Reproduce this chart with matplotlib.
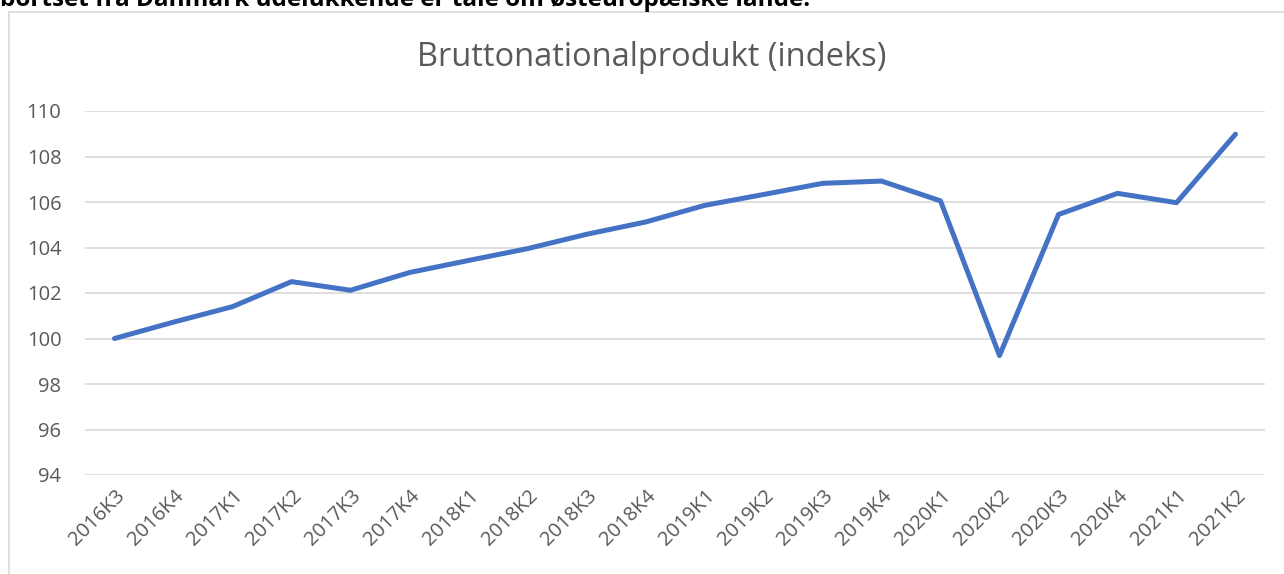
import matplotlib
matplotlib.use('Agg')
import matplotlib.pyplot as plt
from matplotlib.patches import Rectangle

# kvartaler og BNP-indeks (2016K3 = 100)
kvartaler = ['2016K3', '2016K4', '2017K1', '2017K2', '2017K3', '2017K4',
             '2018K1', '2018K2', '2018K3', '2018K4', '2019K1', '2019K2',
             '2019K3', '2019K4', '2020K1', '2020K2', '2020K3', '2020K4',
             '2021K1', '2021K2']
indeks = [100.0, 100.72, 101.4, 102.5, 102.12, 102.9,
          103.43, 103.95, 104.58, 105.12, 105.85, 106.33,
          106.82, 106.92, 106.05, 99.25, 105.45, 106.38,
          105.97, 108.98]
y_ticks = [94, 96, 98, 100, 102, 104, 106, 108, 110]

plt.rcParams['font.family'] = ['Open Sans', 'DejaVu Sans']
grey = '#595959'

fig = plt.figure(figsize=(12.84, 5.74), dpi=100)

# tekst fra dokumentet over figuren (skåret af)
fig.text(0.0, 1 - 6 / 574, 'bortset fra Danmark udelukkende er tale om østeuropæiske lande.',
         fontsize=17.5, fontweight='bold', color='black', va='baseline', ha='left')

# diagramramme
fig.patches.append(Rectangle((9 / 1284, -0.1), 1.2, 1 - 12 / 574 + 0.1,
                             transform=fig.transFigure, fill=False,
                             edgecolor='#d9d9d9', linewidth=1.2))

ax = fig.add_axes([85 / 1284, 1 - 475 / 574, 1180 / 1284, 364 / 574])
x = range(len(kvartaler))
ax.plot(x, indeks, color='#4472C4', linewidth=3.6, solid_joinstyle='round',
        solid_capstyle='round')

ax.set_xlim(-0.5, len(kvartaler) - 0.5)
ax.set_ylim(94, 110)
ax.set_yticks(y_ticks)
ax.set_yticklabels([str(v) for v in y_ticks])
ax.set_xticks(list(x))
ax.set_xticklabels(kvartaler, rotation=45, ha='right', rotation_mode='anchor')
ax.tick_params(axis='both', length=0, colors=grey, labelsize=14.5)
ax.tick_params(axis='y', pad=17)
ax.tick_params(axis='x', pad=8)
ax.grid(axis='y', color='#d9d9d9', linewidth=1.2)
ax.set_axisbelow(True)
for s in ax.spines.values():
    s.set_visible(False)

fig.text(652 / 1284, 1 - 57 / 574, 'Bruttonationalprodukt (indeks)',
         fontsize=23.5, color=grey, ha='center', va='center')

plt.savefig('out.png', dpi=100)
